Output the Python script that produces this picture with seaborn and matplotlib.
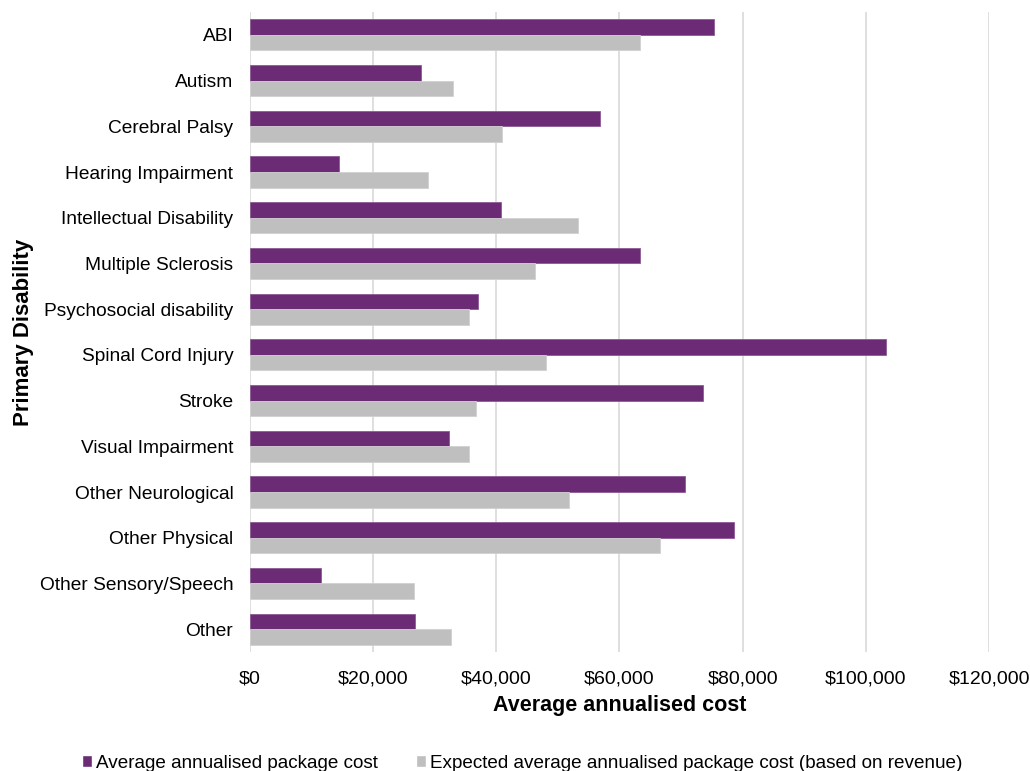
import matplotlib
matplotlib.use("Agg")
import matplotlib.pyplot as plt
import matplotlib.ticker as mticker
import pandas as pd
import seaborn as sns

categories = [
    "ABI", "Autism", "Cerebral Palsy", "Hearing Impairment",
    "Intellectual Disability", "Multiple Sclerosis", "Psychosocial disability",
    "Spinal Cord Injury", "Stroke", "Visual Impairment", "Other Neurological",
    "Other Physical", "Other Sensory/Speech", "Other",
]
actual_cost = [75400, 27700, 56800, 14500, 40700, 63300, 37100,
               103300, 73600, 32300, 70700, 78600, 11600, 26800]
expected_cost = [63300, 32900, 40900, 28900, 53200, 46300, 35600,
                 48000, 36700, 35600, 51800, 66500, 26700, 32600]
series_names = ["Average annualised package cost",
                "Expected average annualised package cost (based on revenue)"]
x_ticks = [0, 20000, 40000, 60000, 80000, 100000, 120000]

df = pd.DataFrame({
    "Primary Disability": categories * 2,
    "cost": actual_cost + expected_cost,
    "series": [series_names[0]] * len(categories) + [series_names[1]] * len(categories),
})

sns.set_theme(style="white")
plt.rcParams["font.family"] = ["Liberation Sans", "DejaVu Sans"]
plt.rcParams["text.color"] = "black"
plt.rcParams["axes.labelcolor"] = "black"

fig = plt.figure(figsize=(10.30, 7.71), dpi=100)
ax = fig.add_axes([0.2427, 0.1543, 0.7175, 0.8301])

sns.barplot(
    data=df, y="Primary Disability", x="cost", hue="series",
    order=categories, hue_order=series_names,
    palette=["#6B2C75", "#BFBFBF"], orient="h", width=0.68,
    saturation=1, ax=ax, legend=True,
)
for patch, col in zip(ax.patches, ["#8E5A96"] * len(categories) + ["#D0D0D0"] * len(categories)):
    patch.set_edgecolor(col)
    patch.set_linewidth(0.6)

ax.set_xlim(0, 120000)
ax.set_xticks(x_ticks)
ax.xaxis.set_major_formatter(mticker.FuncFormatter(lambda v, p: f"${v:,.0f}"))
ax.grid(axis="x", color="#D9D9D9", linewidth=1.2)
ax.set_axisbelow(True)
for s in ax.spines.values():
    s.set_visible(False)
ax.tick_params(axis="x", length=0, pad=13, labelsize=14, colors="black")
ax.tick_params(axis="y", length=0, pad=12, labelsize=13.8, colors="black")
ax.set_xlabel("Average annualised cost", fontsize=15.5, fontweight="bold", labelpad=6)
ax.set_ylabel("Primary Disability", fontsize=16, fontweight="bold", labelpad=4)

handles, labels = ax.get_legend_handles_labels()
ax.legend_.remove()
fig.legend(handles, labels, loc="center", bbox_to_anchor=(0.507, 0.010),
           ncol=2, frameon=False, fontsize=13.6, handlelength=0.55, handleheight=0.65,
           handletextpad=0.2, columnspacing=2.0, borderpad=0.1)

fig.savefig("out.png", dpi=100)
